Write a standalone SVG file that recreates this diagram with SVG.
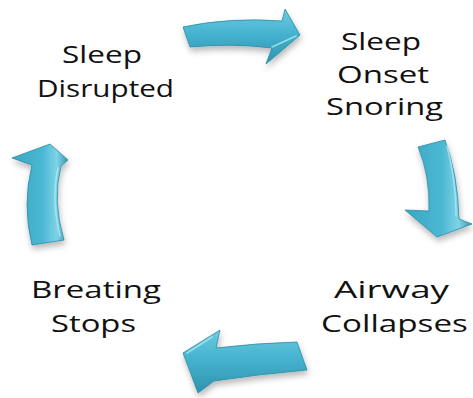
<svg xmlns="http://www.w3.org/2000/svg" width="473" height="398" viewBox="0 0 473 398">
  <style>
    .lbl { font-family: "Open Sans", "Liberation Sans", sans-serif; font-size: 24px; font-weight: 500; fill: #111111; text-anchor: middle; }
    .arrow { stroke: #2b8aa3; stroke-width: 0.8; stroke-linejoin: round; filter: url(#shadow); }
    .hl { fill: none; stroke: #a8e4f2; stroke-width: 1.6; stroke-linecap: round; opacity: 0.85; }
  </style>
  <defs>
    <filter id="shadow" x="-20%" y="-20%" width="150%" height="160%">
      <feDropShadow dx="1" dy="4" stdDeviation="3" flood-color="#000000" flood-opacity="0.28"/>
    </filter>
    <linearGradient id="gH" x1="0" y1="0" x2="0" y2="1">
      <stop offset="0" stop-color="#6dcbe2"/>
      <stop offset="0.45" stop-color="#45b3cf"/>
      <stop offset="1" stop-color="#2f93ad"/>
    </linearGradient>
    <linearGradient id="gV" x1="0" y1="0" x2="1" y2="0">
      <stop offset="0" stop-color="#3aa6c2"/>
      <stop offset="0.55" stop-color="#4ab8d3"/>
      <stop offset="0.8" stop-color="#7fd3e6"/>
      <stop offset="1" stop-color="#3497b1"/>
    </linearGradient>
  </defs>

  <g id="connectors">
    <g id="arrow-top">
      <path class="arrow" fill="url(#gH)" d="M183,27 Q230,17 282,21 L285,9 L300,35 L266,64 L272,48 Q232,43 190,47 Z"/>
      <path class="hl" d="M272,47 L296,36"/>
    </g>
    <g id="arrow-right">
      <path class="arrow" fill="url(#gV)" d="M418,147 L445,140 Q458,175 459,219 L472,224 L437,237 L405,210 L429,211 Q430,175 418,147 Z"/>
      <path class="hl" d="M447,146 Q456,180 456,216"/>
    </g>
    <g id="arrow-bottom">
      <path class="arrow" fill="url(#gH)" d="M183,353 L220,330 L216,348 Q258,343 297,342 L307,370 Q260,374 214,381 L198,393 Z"/>
      <path class="hl" d="M187,353 L212,337"/>
    </g>
    <g id="arrow-left">
      <path class="arrow" fill="url(#gV)" d="M50,144 L68,160 L61,166 Q52,200 64,240 L32,245 Q22,205 32,165 L12,158 Z"/>
      <path class="hl" d="M58,168 Q51,200 60,236"/>
    </g>
  </g>

  <g id="node-sleep-disrupted">
    <text class="lbl" transform="translate(102,63) scale(1.3,1)" textLength="61.5" lengthAdjust="spacingAndGlyphs">Sleep</text>
    <text class="lbl" transform="translate(105.5,97) scale(1.3,1)" textLength="105.4" lengthAdjust="spacingAndGlyphs">Disrupted</text>
  </g>
  <g id="node-sleep-onset-snoring">
    <text class="lbl" transform="translate(381,50) scale(1.3,1)" textLength="61.5" lengthAdjust="spacingAndGlyphs">Sleep</text>
    <text class="lbl" transform="translate(383,83) scale(1.3,1)" textLength="70.8" lengthAdjust="spacingAndGlyphs">Onset</text>
    <text class="lbl" transform="translate(384.5,115) scale(1.3,1)" textLength="90" lengthAdjust="spacingAndGlyphs">Snoring</text>
  </g>
  <g id="node-airway-collapses">
    <text class="lbl" transform="translate(391.5,298) scale(1.3,1)" textLength="88.5" lengthAdjust="spacingAndGlyphs">Airway</text>
    <text class="lbl" transform="translate(394.5,332) scale(1.3,1)" textLength="113" lengthAdjust="spacingAndGlyphs">Collapses</text>
  </g>
  <g id="node-breating-stops">
    <text class="lbl" transform="translate(96,298) scale(1.3,1)" textLength="100" lengthAdjust="spacingAndGlyphs">Breating</text>
    <text class="lbl" transform="translate(93.5,332) scale(1.3,1)" textLength="65.4" lengthAdjust="spacingAndGlyphs">Stops</text>
  </g>
</svg>
